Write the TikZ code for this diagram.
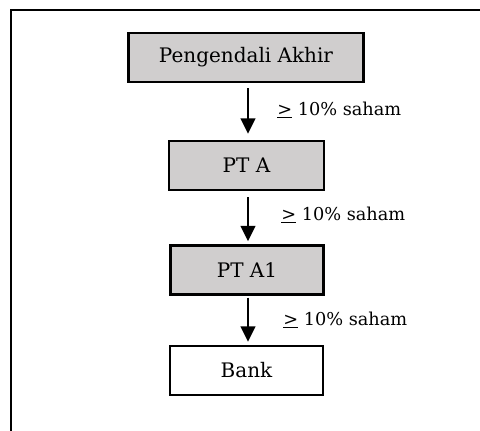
\documentclass[tikz,border=0pt]{standalone}
\usepackage{fontspec}
\setmainfont{DejaVu Serif}
\usetikzlibrary{arrows.meta}
\definecolor{boxgray}{RGB}{208,206,206}
\tikzset{
  entity/.style={draw=black, line width=1.8pt, minimum width=#1, minimum height=36.75pt,
                 inner sep=0pt, font=\fontsize{15}{17}\selectfont},
  owned/.style={entity=#1, fill=boxgray},
  link/.style={line width=1.6pt, -{Triangle[width=11pt,length=11.5pt]}},
  share/.style={anchor=west, inner sep=0pt, font=\fontsize{13.3}{15}\selectfont}
}
\newcommand{\saham}{\underline{>} 10\% saham}
\begin{document}
\begin{tikzpicture}[x=0.75pt, y=-0.75pt]
  \useasboundingbox (0,0) rectangle (480,431);
  % outer frame (top and left edges)
  \draw[line width=2pt] (480,10) -- (11,10) -- (11,431);
  % ownership chain
  \node[owned=176.25pt] (top)  at (246,57.5)  {Pengendali Akhir};
  \node[owned=116.25pt] (pta)  at (246.5,165.5) {PT A};
  \node[owned=114.75pt] (pta1) at (247,270)   {PT A1};
  \node[entity=114.75pt] (bank) at (246.5,370.5) {Bank};
  % arrows share one vertical axis
  \coordinate (axis) at (248,0);
  \draw[link] ([yshift=-3.75pt]top.south -| axis) -- ([yshift=4.5pt]pta.north -| axis);
  \draw[link] ([yshift=-4.5pt]pta.south -| axis) -- ([yshift=2.25pt]pta1.north -| axis);
  \draw[link] ([yshift=-1.5pt]pta1.south -| axis) -- ([yshift=2.25pt]bank.north -| axis);
  \node[share] (l1) at (277,110) {\saham};
  \node[share] (l2) at (281,215) {\saham};
  \node[share] (l3) at (283,320) {\saham};
\end{tikzpicture}
\end{document}
